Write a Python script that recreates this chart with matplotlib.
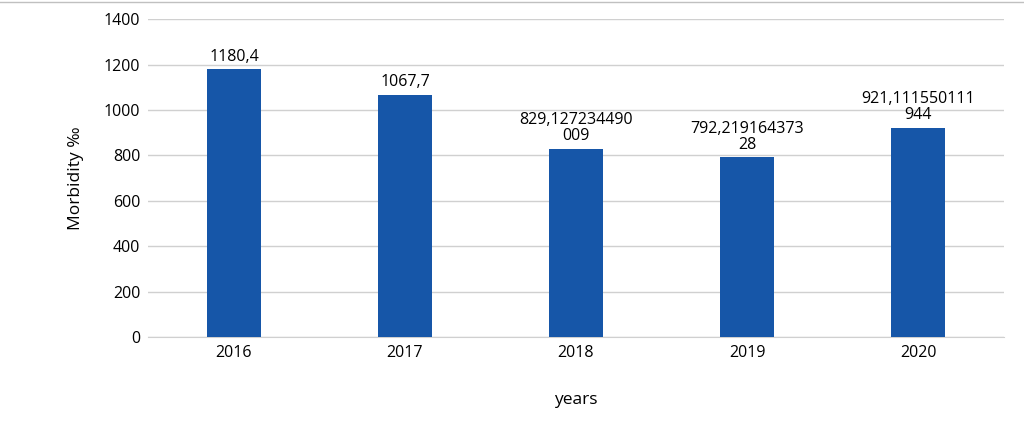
import matplotlib
matplotlib.use("Agg")
import matplotlib.pyplot as plt

years = ["2016", "2017", "2018", "2019", "2020"]
values = [1180.4, 1067.7, 829.127234490009, 792.21916437328, 921.111550111944]
labels = ["1180,4", "1067,7", "829,127234490\n009", "792,219164373\n28", "921,111550111\n944"]

plt.rcParams['font.family'] = ['Open Sans', 'DejaVu Sans']
fig = plt.figure(figsize=(10.24, 4.41), dpi=100)
ax = fig.add_axes([0.145, 0.236, 0.835, 0.72])
x = range(len(years))
bars = ax.bar(x, values, width=0.32, color='#1656A8', zorder=3)
for xi, v, l in zip(x, values, labels):
    ax.text(xi, v + 20, l, ha='center', va='bottom', fontsize=11.5, linespacing=1.0)
ax.set_ylim(0, 1400)
ax.set_yticks(range(0, 1401, 200))
ax.set_xticks(list(x))
ax.set_xticklabels(years)
ax.set_xlim(-0.5, 4.5)
ax.grid(axis='y', color='#d0d0d0', linewidth=1, zorder=0)
for s in ['top', 'right', 'left']:
    ax.spines[s].set_visible(False)
ax.spines['bottom'].set_color('#d0d0d0')
ax.tick_params(length=0, labelsize=11.5, pad=6)
ax.set_ylabel("Morbidity ‰", fontsize=12.5, labelpad=14)
ax.set_xlabel("years", fontsize=12.5, labelpad=22)
fig.add_artist(plt.Line2D([0, 1], [0.995, 0.995], color='#c0c0c0', linewidth=1, transform=fig.transFigure))
fig.savefig("out.png", dpi=100)
